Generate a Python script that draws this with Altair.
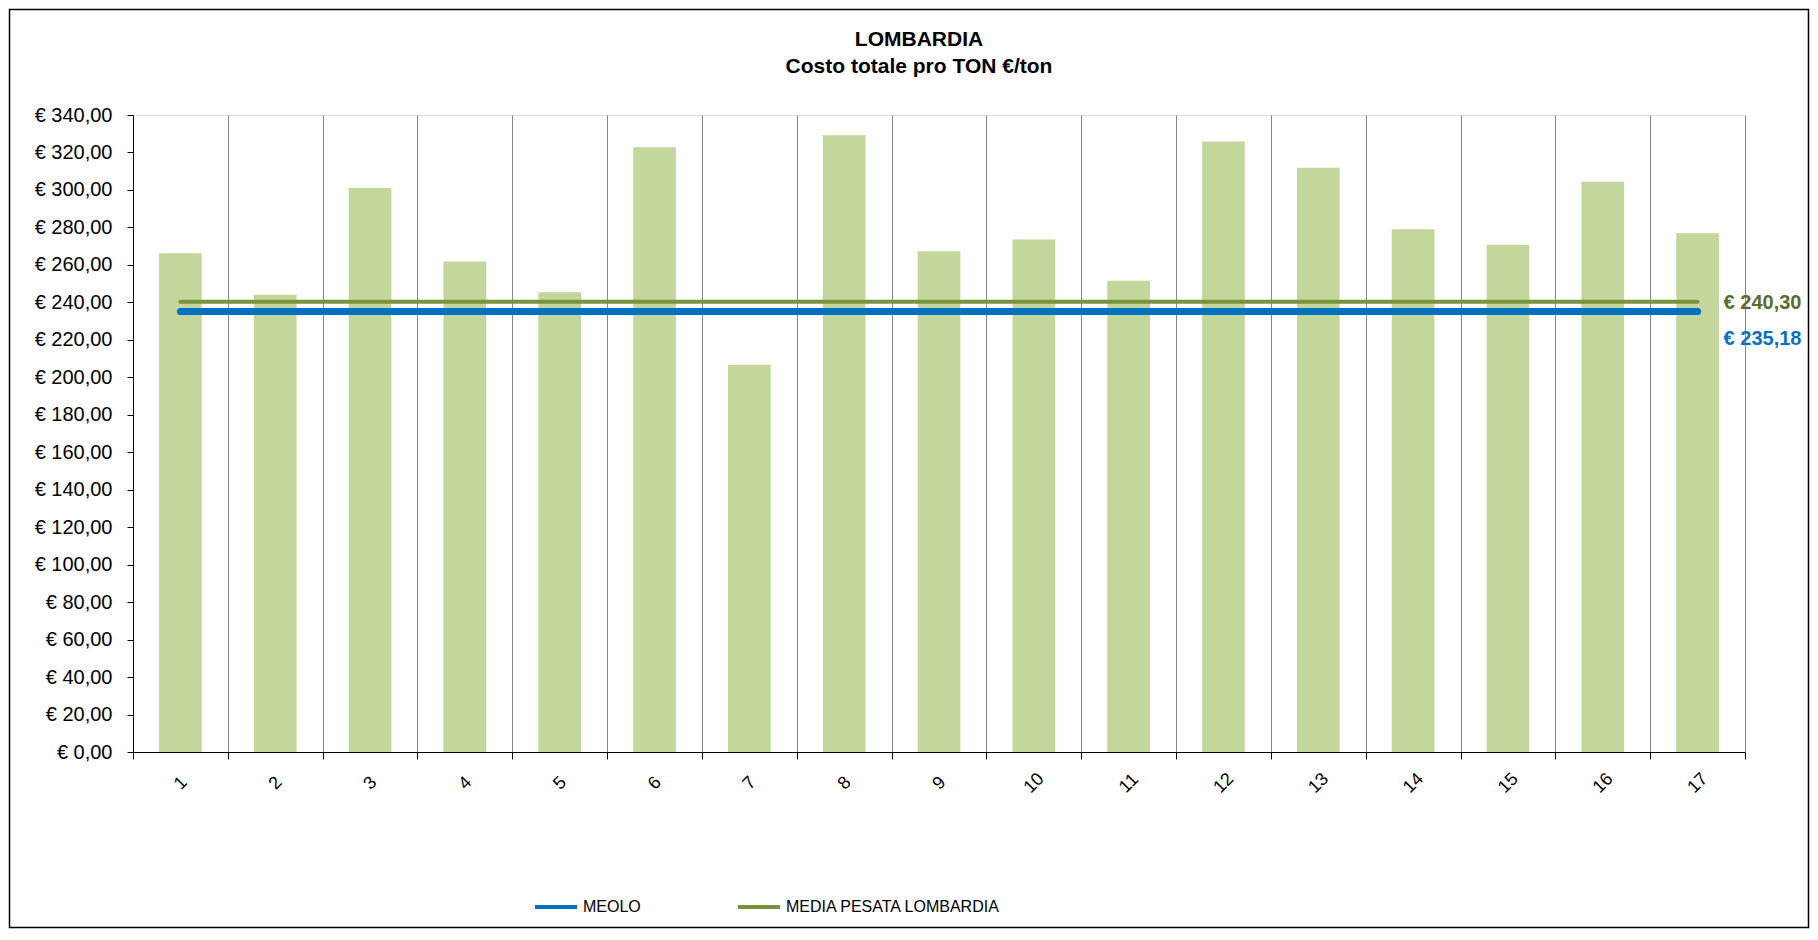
import altair as alt
import pandas as pd

categories = ["1", "2", "3", "4", "5", "6", "7", "8", "9", "10", "11", "12", "13", "14", "15", "16", "17"]
costs = [266.2, 244.0, 301.1, 261.8, 245.4, 322.8, 206.7, 329.2, 267.3, 273.5,
         251.5, 325.8, 311.9, 279.0, 270.8, 304.4, 276.9]
series_names = ["MEOLO", "MEDIA PESATA LOMBARDIA"]
series_values = [235.18, 240.30]
series_colors = ["#0070C0", "#77933C"]
series_widths = [7, 4]
label_colors = ["#0A70C0", "#5A6B2E"]
y_ticks = [0, 20, 40, 60, 80, 100, 120, 140, 160, 180, 200, 220, 240, 260, 280, 300, 320, 340]
title_lines = ["LOMBARDIA", "Costo totale pro TON €/ton"]

FONT = "Liberation Sans"
W, H = 1612, 637

bars_df = pd.DataFrame({"cat": categories, "val": costs})
lines_df = pd.DataFrame(
    [{"cat": c, "series": s, "val": v} for s, v in zip(series_names, series_values) for c in categories]
)
labels_df = pd.DataFrame({
    "cat": [categories[-1]] * len(series_names),
    "series": series_names,
    "val": series_values,
    "tcolor": label_colors,
})

x_enc = alt.X(
    "cat:N", sort=categories,
    scale=alt.Scale(paddingInner=0, paddingOuter=0),
    axis=alt.Axis(
        title=None, labelAngle=315, labelAlign="center", labelBaseline="middle",
        labelPadding=24, labelFontSize=18, labelFont=FONT, labelColor="#000",
        tickBand="extent", grid=True, gridColor="#868686", gridWidth=1,
        domainColor="#000", domainWidth=1, tickColor="#000", tickSize=7,
    ),
)
y_enc = alt.Y(
    "val:Q",
    scale=alt.Scale(domain=[0, 340], nice=False, zero=True),
    axis=alt.Axis(
        title=None, values=y_ticks,
        labelExpr="'€ ' + replace(format(datum.value, '.2f'), '.', ',')",
        labelFontSize=20, labelFont=FONT, labelColor="#000", labelPadding=15,
        domainColor="#000", domainWidth=1, tickColor="#000", tickSize=6, grid=False,
    ),
)

frame = alt.Chart(pd.DataFrame({"f": [0]})).mark_rect(
    filled=False, stroke="#000", strokeWidth=1.5
).encode(
    x=alt.value(-123.5), x2=alt.value(1675.5), y=alt.value(-105.5), y2=alt.value(812.5)
)


def title_line(text, y):
    return alt.Chart(pd.DataFrame({"t": [text]})).mark_text(
        align="center", baseline="middle", font=FONT, fontSize=21, fontWeight="bold", color="#000"
    ).encode(text="t:N", x=alt.value(W / 2 - 20), y=alt.value(y))


bars = alt.Chart(bars_df).mark_bar(color="#C3D69B", width={"band": 0.45}).encode(x=x_enc, y=y_enc)

lines = alt.Chart(lines_df).mark_line(strokeCap="round").encode(
    x=x_enc, y=y_enc,
    color=alt.Color(
        "series:N", title=None,
        scale=alt.Scale(domain=series_names, range=series_colors),
        legend=alt.Legend(
            orient="none", legendX=400, legendY=769, direction="horizontal",
            symbolType="stroke", symbolSize=1764, symbolStrokeWidth=4,
            labelFontSize=16, labelFont=FONT, labelColor="#000", labelLimit=400,
            columnPadding=89, labelOffset=4, padding=0,
        ),
    ),
    strokeWidth=alt.StrokeWidth(
        "series:N", scale=alt.Scale(domain=series_names, range=series_widths), legend=None
    ),
)


def value_label(name, dy):
    return alt.Chart(labels_df).transform_filter(
        alt.datum.series == name
    ).transform_calculate(
        label="'€ ' + replace(format(datum.val, '.2f'), '.', ',')"
    ).mark_text(
        align="left", baseline="middle", fontSize=20, fontWeight="bold", font=FONT, dx=26, dy=dy
    ).encode(
        x=x_enc, y=y_enc, text="label:N", color=alt.Color("tcolor:N", scale=None)
    )


chart = alt.layer(
    frame, title_line(title_lines[0], -75), title_line(title_lines[1], -48),
    bars, lines, value_label("MEDIA PESATA LOMBARDIA", 1), value_label("MEOLO", 28)
).resolve_scale(
    color="independent"
).properties(
    width=W, height=H,
    autosize=alt.AutoSizeParams(type="none"),
    padding={"left": 125, "top": 107, "right": 65, "bottom": 178},
).configure_view(stroke=None).configure(background="#ffffff")

chart.save("out.html", embed_options={"renderer": "svg", "actions": False})
